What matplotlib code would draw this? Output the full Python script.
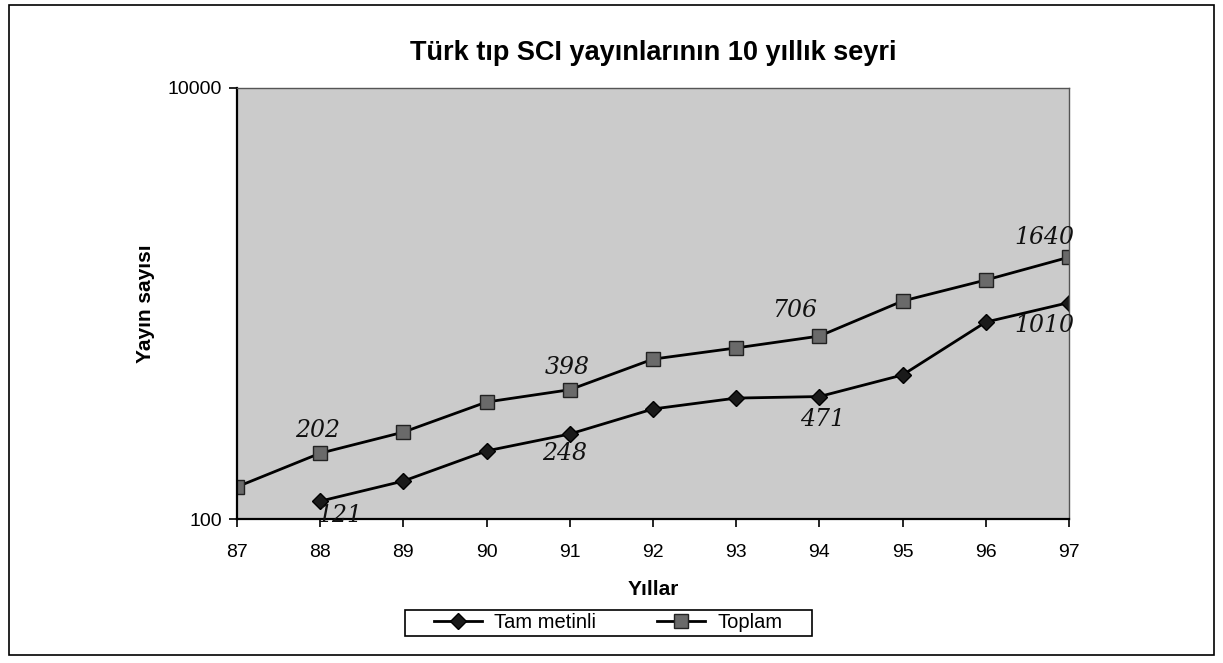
import matplotlib.pyplot as plt
from matplotlib.patches import Rectangle

plt.rcParams['font.family'] = ['Liberation Sans', 'DejaVu Sans']

years = ['87', '88', '89', '90', '91', '92', '93', '94', '95', '96', '97']
tam_metinli = [None, 121, 150, 207, 248, 324, 364, 370, 466, 820, 1010]
toplam = [141, 202, 253, 349, 398, 552, 622, 706, 1027, 1285, 1640]

# handwritten notes on the original: index -> text
notes_top = {1: '202', 4: '398', 7: '706', 10: '1640'}
notes_tam = {1: '121', 4: '248', 7: '471', 10: '1010'}

x = list(range(len(years)))
x_tam = [i for i, v in zip(x, tam_metinli) if v is not None]
y_tam = [v for v in tam_metinli if v is not None]

fig = plt.figure(figsize=(12.23, 6.63), dpi=100)
fig.patches.append(Rectangle((0.007, 0.012), 0.986, 0.98, transform=fig.transFigure,
                             fill=False, edgecolor='black', linewidth=1.2))

ax = fig.add_axes([237 / 1223, 1 - 519 / 663, (1069 - 237) / 1223, (519 - 88) / 663])
ax.set_facecolor('#cbcbcb')

ax.plot(x_tam, y_tam, color='black', linewidth=2, marker='D', markersize=8,
        markerfacecolor='#1a1a1a', markeredgecolor='black', label='Tam metinli')
ax.plot(x, toplam, color='black', linewidth=2, marker='s', markersize=10,
        markerfacecolor='#6a6a6a', markeredgecolor='#222222', label='Toplam')

hand = dict(fontsize=17, style='italic', family=['DejaVu Serif'], color='#111111')
top_off = {1: (-2, 8), 4: (-2, 8), 7: (-18, 10), 10: (-18, 6)}
tam_off = {1: (14, -2), 4: (-4, -6), 7: (2, -8), 10: (-18, -8)}
for i, t in notes_top.items():
    ax.annotate(t, (x[i], toplam[i]), xytext=top_off[i], textcoords='offset points',
                ha='center', va='bottom', **hand)
for i, t in notes_tam.items():
    ax.annotate(t, (x[i], tam_metinli[i]), xytext=tam_off[i], textcoords='offset points',
                ha='center', va='top', **hand)

ax.set_yscale('log')
ax.set_ylim(100, 10000)
ax.set_xlim(0, len(years) - 1)
ax.set_yticks([100, 10000])
ax.set_yticklabels(['100', '10000'])
ax.minorticks_off()
ax.set_xticks(x)
ax.set_xticklabels(years)
ax.tick_params(axis='both', direction='out', length=6, width=1.2, labelsize=14, color='black')
ax.tick_params(axis='x', pad=12)
ax.tick_params(axis='y', pad=5)
for s in ['top', 'right']:
    ax.spines[s].set_linewidth(1.0)
    ax.spines[s].set_color('#555555')
for s in ['left', 'bottom']:
    ax.spines[s].set_linewidth(1.6)

ax.set_title('Türk tıp SCI yayınlarının 10 yıllık seyri', fontsize=19.5, fontweight='bold', pad=20)
ax.set_xlabel('Yıllar', fontsize=15, fontweight='bold', labelpad=14)
ax.set_ylabel('Yayın sayısı', fontsize=15, fontweight='bold', labelpad=9)

leg = fig.legend(loc='center', bbox_to_anchor=(608 / 1223, 1 - 623 / 663), ncol=2,
                 fontsize=14.5, frameon=False,
                 handlelength=2.4, handletextpad=0.6, columnspacing=3.0, borderpad=0.15)
fig.patches.append(Rectangle((405 / 1223, 1 - 636 / 663), 407 / 1223, 26 / 663,
                             transform=fig.transFigure, fill=False,
                             edgecolor='black', linewidth=1.2))

fig.savefig('out.png', dpi=100)
